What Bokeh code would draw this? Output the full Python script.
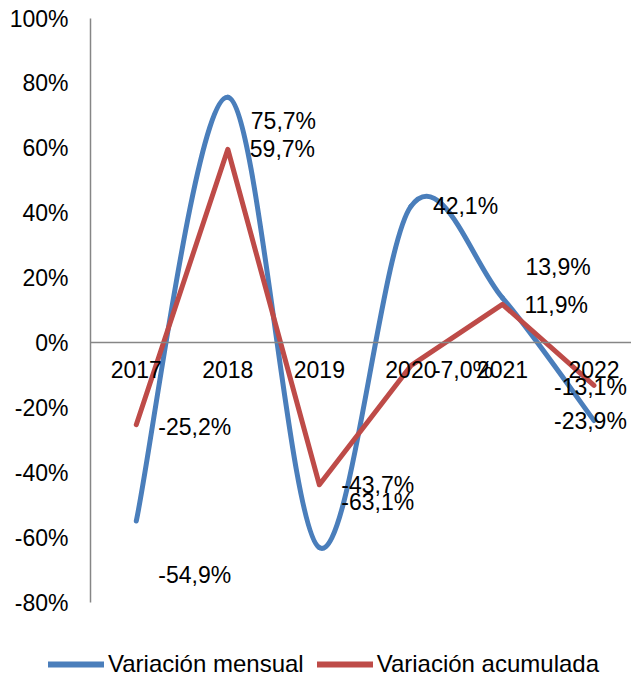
from bokeh.plotting import figure
from bokeh.layouts import column, row
from bokeh.models import (Range1d, FixedTicker, PrintfTickFormatter, Legend,
                          LegendItem, LinearAxis, ColumnDataSource)
from bokeh.core.properties import value
from bokeh.embed import file_html
from bokeh.resources import INLINE

# ---- data ----
years = [2017, 2018, 2019, 2020, 2021, 2022]
variacion_mensual = [-54.9, 75.7, -63.1, 42.1, 13.9, -23.9]
variacion_acumulada = [-25.2, 59.7, -43.7, -7.0, 11.9, -13.1]
y_ticks = [-80, -60, -40, -20, 0, 20, 40, 60, 80, 100]
series_names = ["Variación mensual", "Variación acumulada"]

# ---- styles ----
BLUE = "#4A7EBB"
RED = "#BE4B48"
AXIS = "#868686"
FONT = "Liberation Sans"
FS = "23px"
LW = 5

# label offsets (pixels) for the data labels
blue_dx = [22, 23, 22, 22, 23, -40]
blue_dy = [54, 24, -46, 0, -31, 1]
red_dx = [22, 22, 22, 22, 22, -40]
red_dy = [2, 0, 0, 4, 1, 2]


def fmt(v):
    return ("%.1f%%" % v).replace(".", ",")


p = figure(width=631, height=650, output_backend="svg", toolbar_location=None,
           x_range=Range1d(2016.5, 2022.41), y_range=Range1d(-80, 100),
           min_border_left=90, min_border_top=18, min_border_right=0,
           min_border_bottom=48, x_axis_location=None, y_axis_location="left")
p.outline_line_color = None
p.xgrid.visible = False
p.ygrid.visible = False
p.background_fill_color = "white"
p.border_fill_color = "white"

ya = p.yaxis[0]
ya.ticker = FixedTicker(ticks=y_ticks)
ya.formatter = PrintfTickFormatter(format="%d%%")
ya.major_tick_in = 0
ya.major_tick_out = 0
ya.minor_tick_in = 0
ya.minor_tick_out = 0
ya.major_label_standoff = 22
ya.axis_line_color = AXIS
ya.axis_line_width = 1.5
ya.major_label_text_font = FONT
ya.major_label_text_font_size = FS
ya.major_label_text_color = "black"

xa = LinearAxis(fixed_location=0, ticker=FixedTicker(ticks=years),
                formatter=PrintfTickFormatter(format="%d"))
xa.major_tick_in = 0
xa.major_tick_out = 0
xa.minor_tick_in = 0
xa.minor_tick_out = 0
xa.major_label_standoff = 18
xa.axis_line_color = AXIS
xa.axis_line_width = 1.5
xa.major_label_text_font = FONT
xa.major_label_text_font_size = FS
xa.major_label_text_color = "black"
p.add_layout(xa, "below")

# ---- smoothed (Excel-like) curve for the monthly series ----
n = len(years)
x0, y0, x1, y1, cx0, cy0, cx1, cy1 = [], [], [], [], [], [], [], []
for i in range(n - 1):
    ip = max(i - 1, 0)
    inn = min(i + 2, n - 1)
    xa_, ya_ = years[i], variacion_mensual[i]
    xb_, yb_ = years[i + 1], variacion_mensual[i + 1]
    x0.append(xa_); y0.append(ya_)
    x1.append(xb_); y1.append(yb_)
    cx0.append(xa_ + (xb_ - years[ip]) / 6.0)
    cy0.append(ya_ + (yb_ - variacion_mensual[ip]) / 6.0)
    cx1.append(xb_ - (years[inn] - xa_) / 6.0)
    cy1.append(yb_ - (variacion_mensual[inn] - ya_) / 6.0)

bsrc = ColumnDataSource(dict(x0=x0, y0=y0, x1=x1, y1=y1, cx0=cx0, cy0=cy0, cx1=cx1, cy1=cy1))
p.bezier(x0="x0", y0="y0", x1="x1", y1="y1", cx0="cx0", cy0="cy0",
         cx1="cx1", cy1="cy1", source=bsrc, line_color=BLUE, line_width=LW,
         line_cap="round")

p.line(years, variacion_acumulada, line_color=RED, line_width=LW,
       line_cap="round", line_join="round")

# ---- data labels ----
lsrc = ColumnDataSource(dict(
    x=years + years,
    y=variacion_mensual + variacion_acumulada,
    text=[fmt(v) for v in variacion_mensual] + [fmt(v) for v in variacion_acumulada],
    dx=blue_dx + red_dx,
    dy=blue_dy + red_dy,
))
p.text(x="x", y="y", text="text", x_offset="dx", y_offset="dy", source=lsrc,
       text_align="left", text_baseline="middle", text_font=value(FONT),
       text_font_size=FS, text_color="black")

# ---- legend strip (proxy renderers lie outside its ranges) ----
pl = figure(width=631, height=29, output_backend="svg", toolbar_location=None,
            x_range=Range1d(0, 1), y_range=Range1d(0, 1),
            min_border_left=0, min_border_top=0, min_border_right=0,
            min_border_bottom=0, x_axis_location=None, y_axis_location=None)
pl.outline_line_color = None
pl.xgrid.visible = False
pl.ygrid.visible = False
lb = pl.line(x=years, y=variacion_mensual, line_color=BLUE, line_width=6, line_cap="round")
lr = pl.line(x=years, y=variacion_acumulada, line_color=RED, line_width=6, line_cap="round")
legend = Legend(items=[LegendItem(label=series_names[0], renderers=[lb]),
                       LegendItem(label=series_names[1], renderers=[lr])],
                orientation="horizontal", location=(48, 1),
                glyph_width=56, glyph_height=22, label_standoff=4, spacing=13,
                padding=0, margin=0, border_line_color=None,
                background_fill_alpha=0, label_text_font=FONT,
                label_text_font_size="24px", label_text_color="black",
                label_height=22)
pl.add_layout(legend)

layout = column(p, row(pl, spacing=0), spacing=0)
open("out.html", "w").write(file_html(layout, INLINE))
